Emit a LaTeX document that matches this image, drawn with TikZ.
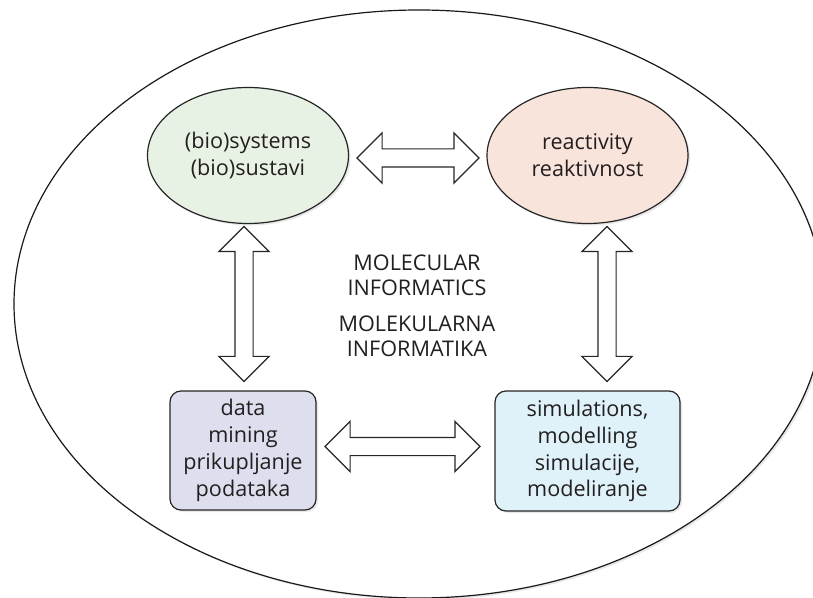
\documentclass[tikz,border=0pt]{standalone}
\usepackage{fontspec}
\setmainfont{Open Sans}
\usetikzlibrary{shapes.geometric,shapes.arrows,shadows}

\newlength{\du}
\setlength{\du}{0.5pt}

\definecolor{textcolor}{rgb}{0.137, 0.122, 0.125}
\definecolor{sysfill}{rgb}{0.910, 0.949, 0.894}
\definecolor{reactfill}{rgb}{0.976, 0.894, 0.859}
\definecolor{minefill}{rgb}{0.871, 0.875, 0.933}
\definecolor{simfill}{rgb}{0.875, 0.949, 0.980}

\tikzset{
  lbl/.style={font=\fontsize{10.8}{13.4}\selectfont, text=textcolor, align=center},
  soft/.style={drop shadow={opacity=0.18, shadow xshift=1pt, shadow yshift=-1pt}},
  topic/.style={lbl, ellipse, draw=black!85, line width=0.6pt, soft,
    minimum width=201\du, minimum height=136\du, inner sep=0pt},
  taskbox/.style={lbl, rectangle, rounded corners=11\du, draw=black!85,
    line width=0.6pt, inner sep=0pt, soft},
  link/.style={double arrow, draw=black!85, fill=white, line width=0.6pt,
    inner xsep=0pt, inner ysep=8.5\du, minimum width=0pt,
    double arrow head extend=16\du, double arrow tip angle=90},
}

\begin{document}
\begin{tikzpicture}[yscale=-1]
\useasboundingbox (0,0) rectangle (813\du,598\du);
% outer ring
\node[ellipse, draw=black!90, fill=white, line width=0.6pt, soft, minimum width=810\du,
  minimum height=588\du, inner sep=0pt] (ring) at (419\du,304\du) {};
% the four topics
\node[topic, fill=sysfill] (sys) at (248\du,155.5\du) {(bio)systems\\(bio)sustavi};
\node[topic, fill=reactfill] (react) at (587.5\du,155.5\du) {reactivity\\reaktivnost};
\node[taskbox, fill=minefill, minimum width=146\du, minimum height=119\du]
  (mine) at (243\du,450.5\du) {data\\mining\\prikupljanje\\podataka};
\node[taskbox, fill=simfill, minimum width=185\du, minimum height=120\du]
  (sim) at (587.5\du,451\du) {simulations,\\modelling\\simulacije,\\modeliranje};
% title
\node[lbl, font=\fontsize{10.8}{12.5}\selectfont] (title) at (417\du,306\du)
  {MOLECULAR\\INFORMATICS\\[11\du]MOLEKULARNA\\INFORMATIKA};
% links
\node[link, minimum height=122\du] (sysreact) at (418\du,158\du) {};
\node[link, minimum height=155\du] (minesim) at (402.5\du,446.5\du) {};
\node[link, minimum height=155\du, rotate=90] (sysmine) at (244\du,304\du) {};
\node[link, minimum height=155\du, rotate=90] (reactsim) at (607\du,304\du) {};
\end{tikzpicture}
\end{document}
